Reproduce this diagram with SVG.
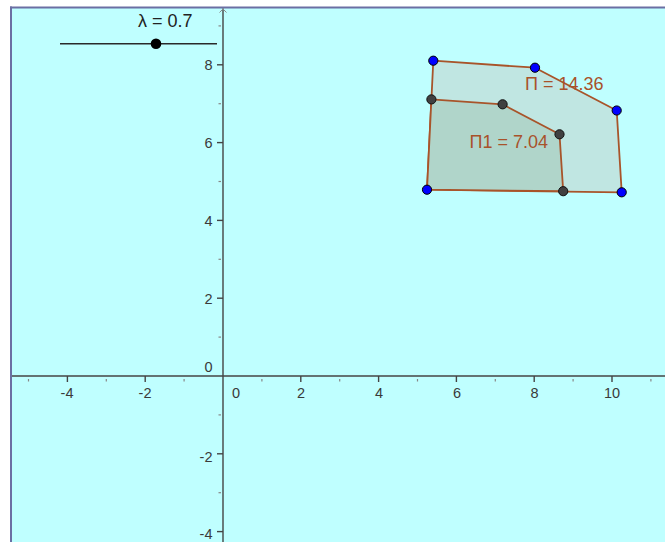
<svg xmlns="http://www.w3.org/2000/svg" width="665" height="542" viewBox="0 0 665 542">
<style>
.ax{stroke:#444;stroke-width:1.4;fill:none}
.tk{stroke:#444;stroke-width:1.4}
.mt{stroke:#888;stroke-width:1.2}
.xl{font-family:"Liberation Sans",Arial,sans-serif;font-size:14.5px;fill:#3a3a3a;text-anchor:middle}
.yl{font-family:"Liberation Sans",Arial,sans-serif;font-size:14.5px;fill:#3a3a3a;text-anchor:end}
.lab{font-family:"Liberation Sans",Arial,sans-serif;font-size:18px;fill:#a8522a}
.edge{stroke:#a8542a;stroke-width:1.8;stroke-linejoin:round}
.bp{fill:#0000ff;stroke:#000;stroke-width:1}
.dp{fill:#404040;stroke:#111;stroke-width:1}
</style>
<rect x="0" y="0" width="665" height="542" fill="#ffffff"/>
<rect x="11" y="7.5" width="660" height="540" fill="#bfffff"/>
<g id="frame">
<line x1="11" y1="6.5" x2="11" y2="542" stroke="#6b6fa3" stroke-width="2"/>
<line x1="10" y1="7.5" x2="665" y2="7.5" stroke="#6b6fa3" stroke-width="2"/>
</g>
<g id="axes">
<line class="ax" x1="12" y1="376" x2="665" y2="376"/>
<line class="ax" x1="223" y1="8.5" x2="223" y2="542"/>
<path d="M219.5 12.5 L223 9 L226.5 12.5" stroke="#888" stroke-width="1" fill="none"/>
<g class="tk">
<line x1="67.4" y1="376" x2="67.4" y2="382"/>
<line x1="145.2" y1="376" x2="145.2" y2="382"/>
<line x1="300.8" y1="376" x2="300.8" y2="382"/>
<line x1="378.6" y1="376" x2="378.6" y2="382"/>
<line x1="456.4" y1="376" x2="456.4" y2="382"/>
<line x1="534.2" y1="376" x2="534.2" y2="382"/>
<line x1="612" y1="376" x2="612" y2="382"/>
<line x1="217" y1="64.8" x2="223" y2="64.8"/>
<line x1="217" y1="142.6" x2="223" y2="142.6"/>
<line x1="217" y1="220.4" x2="223" y2="220.4"/>
<line x1="217" y1="298.2" x2="223" y2="298.2"/>
<line x1="217" y1="453.8" x2="223" y2="453.8"/>
<line x1="217" y1="531.6" x2="223" y2="531.6"/>
</g>
<g class="mt">
<line x1="28.5" y1="379" x2="28.5" y2="381.5"/>
<line x1="106.3" y1="379" x2="106.3" y2="381.5"/>
<line x1="184.1" y1="379" x2="184.1" y2="381.5"/>
<line x1="261.9" y1="379" x2="261.9" y2="381.5"/>
<line x1="339.7" y1="379" x2="339.7" y2="381.5"/>
<line x1="417.5" y1="379" x2="417.5" y2="381.5"/>
<line x1="495.3" y1="379" x2="495.3" y2="381.5"/>
<line x1="573.1" y1="379" x2="573.1" y2="381.5"/>
<line x1="650.9" y1="379" x2="650.9" y2="381.5"/>
<line x1="218.5" y1="25.9" x2="221" y2="25.9"/>
<line x1="218.5" y1="103.7" x2="221" y2="103.7"/>
<line x1="218.5" y1="181.5" x2="221" y2="181.5"/>
<line x1="218.5" y1="259.3" x2="221" y2="259.3"/>
<line x1="218.5" y1="337.1" x2="221" y2="337.1"/>
<line x1="218.5" y1="414.9" x2="221" y2="414.9"/>
<line x1="218.5" y1="492.7" x2="221" y2="492.7"/>
</g>
<text class="xl" x="67" y="397.5">-4</text>
<text class="xl" x="145" y="397.5">-2</text>
<text class="xl" x="236" y="397.5">0</text>
<text class="xl" x="301" y="397.5">2</text>
<text class="xl" x="379" y="397.5">4</text>
<text class="xl" x="457" y="397.5">6</text>
<text class="xl" x="534.5" y="397.5">8</text>
<text class="xl" x="612" y="397.5">10</text>
<text class="yl" x="212.5" y="70.3">8</text>
<text class="yl" x="212.5" y="148.1">6</text>
<text class="yl" x="212.5" y="225.9">4</text>
<text class="yl" x="212.5" y="303.7">2</text>
<text class="yl" x="212.5" y="372">0</text>
<text class="yl" x="212.5" y="461.5">-2</text>
<text class="yl" x="212.5" y="538.5">-4</text>
</g>
<g id="slider">
<line x1="60" y1="43.8" x2="217" y2="43.8" stroke="#2a2a2a" stroke-width="1.6"/>
<circle cx="156" cy="43.8" r="5.3" fill="#000"/>
<text class="lab" x="138" y="26.5" style="fill:#222">λ = 0.7</text>
</g>
<g id="polygon-outer">
<polygon class="edge" points="433.3,60.7 535,67.7 616.7,110.5 621.7,192.3 427,189.7" fill="#c0e6e2"/>
</g>
<g id="polygon-inner">
<polygon class="edge" points="431.4,99.4 502.6,104.3 559.5,134.3 563.2,191.2 427,189.7" fill="#b0d5ca"/>
</g>
<g id="labels">
<text class="lab" x="525" y="90">Π = 14.36</text>
<text class="lab" x="469.5" y="148.3">Π1 = 7.04</text>
</g>
<g id="points">
<circle class="bp" cx="433.3" cy="60.7" r="4.6"/>
<circle class="bp" cx="535" cy="67.7" r="4.6"/>
<circle class="bp" cx="616.7" cy="110.5" r="4.6"/>
<circle class="bp" cx="621.7" cy="192.3" r="4.6"/>
<circle class="bp" cx="427" cy="189.7" r="4.6"/>
<circle class="dp" cx="431.4" cy="99.4" r="4.6"/>
<circle class="dp" cx="502.6" cy="104.3" r="4.6"/>
<circle class="dp" cx="559.5" cy="134.3" r="4.6"/>
<circle class="dp" cx="563.2" cy="191.2" r="4.6"/>
</g>
</svg>
